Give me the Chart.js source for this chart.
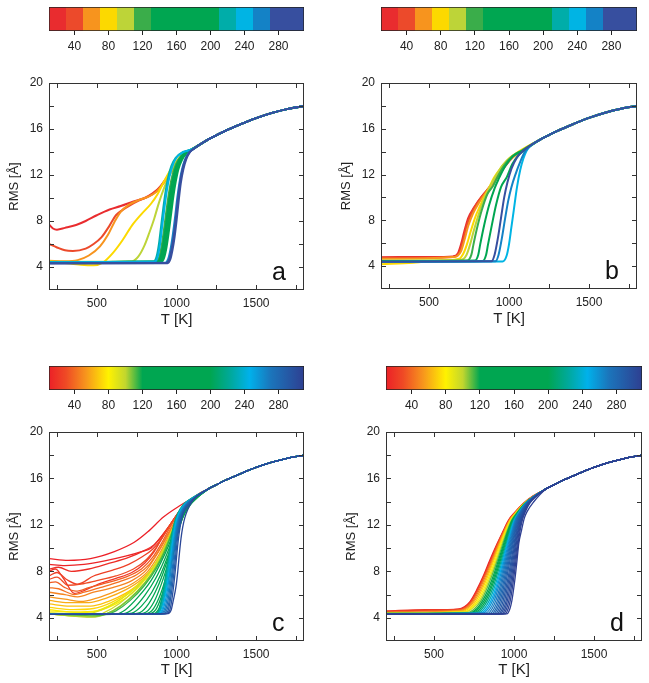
<!DOCTYPE html>
<html>

<head>
  <meta charset="utf-8">
  <title>RMS vs T</title>
  <style>
    body { margin: 0; background: #fff; overflow: hidden; }
    .box { position: absolute; }
  </style>
</head>

<body>
  <div class="box" style="left:0px;top:0px"><canvas id="barA" width="320" height="60"></canvas></div>
  <div class="box" style="left:325px;top:0px"><canvas id="barB" width="324" height="60"></canvas></div>
  <div class="box" style="left:0px;top:359px"><canvas id="barC" width="320" height="60"></canvas></div>
  <div class="box" style="left:325px;top:359px"><canvas id="barD" width="324" height="60"></canvas></div>
  <div class="box" style="left:0px;top:75px"><canvas id="plotA" width="320" height="254"></canvas></div>
  <div class="box" style="left:325px;top:75px"><canvas id="plotB" width="324" height="253"></canvas></div>
  <div class="box" style="left:0px;top:424px"><canvas id="plotC" width="320" height="255"></canvas></div>
  <div class="box" style="left:325px;top:424px"><canvas id="plotD" width="324" height="255"></canvas></div>

  <script src="https://cdn.jsdelivr.net/npm/chart.js"></script>
  <script>
    // axis ticks
    const xLabels = [500, 1000, 1500];
    const yLabels = [4, 8, 12, 16, 20];
    const xMarks = [250, 500, 750, 1000, 1250, 1500, 1750];
    const yMarks = [4, 6, 8, 10, 12, 14, 16, 18];
    const barLabels = [40, 80, 120, 160, 200, 240, 280];

    // colour scales (a, b use blocks; c, d are smooth)
    const segBounds = [10, 30, 50, 70, 90, 110, 130, 210, 230, 250, 270, 310];
    const segColors = ['#e92c2f', '#ec4a2b', '#f7941e', '#fcd900', '#bdd438', '#3aad4a', '#00a651', '#00ada9', '#00b4e4', '#1482c6', '#374f9f'];
    const cmapPos = [10, 30, 53, 80, 100, 120, 200, 224, 246, 271, 310];
    const cmapCol = ['#ec2027', '#ef4a25', '#f7941d', '#fff200', '#c2d62e', '#00a651', '#00a651', '#00a99d', '#00b1eb', '#1b75bb', '#2e3f91'];

    // common high temperature part, all curves join here
    const tail = [[1200, 15.1], [1250, 15.45], [1300, 15.8], [1400, 16.4], [1500, 16.95], [1600, 17.4], [1700, 17.75], [1800, 18.0]];

    // panel a
    const nA = [20, 40, 60, 80, 100, 120, 140, 160, 180, 200, 220, 240, 260, 280, 300];
    const linesA = [
      [[200, 7.7], [225, 7.35], [250, 7.25], [300, 7.4], [370, 7.65], [430, 8.0], [500, 8.5], [580, 9.0], [650, 9.3], [730, 9.7], [800, 10.0], [850, 10.4], [900, 11.0], [950, 12.0], [1000, 13.0], [1050, 13.8], [1095, 14.2]],
      [[200, 6.0], [250, 5.7], [300, 5.45], [350, 5.4], [430, 5.6], [480, 6.0], [530, 6.6], [580, 7.6], [620, 8.5], [660, 8.95], [700, 9.3], [760, 9.75], [820, 10.1], [870, 10.55], [920, 11.4], [970, 12.4], [1020, 13.3], [1060, 13.9], [1095, 14.2]],
      [[200, 4.55], [300, 4.5], [380, 4.6], [450, 5.0], [520, 5.8], [570, 6.8], [610, 7.9], [650, 8.8], [700, 9.4], [760, 9.8], [820, 10.1], [870, 10.5], [920, 11.3], [970, 12.3], [1020, 13.3], [1060, 13.9], [1095, 14.2]],
      [[200, 4.5], [300, 4.35], [400, 4.2], [480, 4.15], [540, 4.4], [600, 5.2], [660, 6.3], [720, 7.6], [780, 8.6], [840, 9.5], [880, 10.3], [920, 11.4], [960, 12.4], [1000, 13.2], [1050, 13.9], [1095, 14.2]],
      [[200, 4.45], [500, 4.45], [720, 4.5], [760, 4.9], [800, 5.9], [830, 7.0], [860, 8.2], [890, 9.6], [920, 10.8], [950, 11.8], [990, 12.9], [1040, 13.7], [1095, 14.2]],
      [[200, 4.42], [870, 4.45], [890, 4.8], [905, 5.7], [920, 7.1], [935, 8.7], [950, 10.2], [965, 11.4], [985, 12.5], [1010, 13.3], [1050, 13.95], [1090, 14.2]],
      [[200, 4.42], [880, 4.45], [898, 4.8], [913, 5.7], [928, 7.1], [943, 8.7], [958, 10.2], [973, 11.4], [992, 12.5], [1016, 13.3], [1055, 13.95], [1092, 14.2]],
      [[200, 4.42], [888, 4.45], [906, 4.8], [921, 5.7], [936, 7.1], [951, 8.7], [966, 10.2], [981, 11.4], [999, 12.5], [1022, 13.3], [1060, 13.95], [1094, 14.2]],
      [[200, 4.42], [896, 4.45], [914, 4.8], [929, 5.7], [944, 7.1], [959, 8.7], [974, 10.2], [988, 11.4], [1006, 12.5], [1028, 13.3], [1064, 13.95], [1096, 14.2]],
      [[200, 4.42], [904, 4.45], [922, 4.8], [937, 5.7], [952, 7.1], [967, 8.7], [981, 10.2], [995, 11.4], [1012, 12.5], [1034, 13.3], [1068, 13.95], [1098, 14.2]],
      [[200, 4.42], [855, 4.45], [875, 4.9], [890, 6.0], [903, 7.5], [917, 9.1], [932, 10.6], [948, 11.8], [968, 12.8], [995, 13.5], [1040, 14.0], [1090, 14.2]],
      [[200, 4.42], [862, 4.45], [882, 4.9], [897, 6.0], [910, 7.5], [924, 9.1], [939, 10.6], [955, 11.8], [975, 12.8], [1000, 13.5], [1045, 14.0], [1090, 14.2]],
      [[200, 4.35], [930, 4.38], [948, 4.7], [962, 5.5], [976, 6.7], [990, 8.2], [1004, 9.9], [1018, 11.3], [1033, 12.4], [1052, 13.3], [1075, 13.9], [1100, 14.2]],
      [[200, 4.32], [937, 4.35], [956, 4.7], [969, 5.5], [982, 6.6], [995, 8.1], [1008, 9.8], [1022, 11.3], [1038, 12.5], [1058, 13.4], [1080, 13.95], [1105, 14.25]],
      [[200, 4.3], [944, 4.33], [962, 4.7], [975, 5.5], [988, 6.6], [1001, 8.1], [1014, 9.8], [1027, 11.3], [1043, 12.5], [1062, 13.4], [1085, 14.0], [1110, 14.3]]
    ];

    // panel b
    const nB = [20, 40, 60, 80, 100, 120, 160, 200, 290, 260, 240];
    const linesB = [
      [[200, 4.78], [500, 4.8], [650, 4.85], [680, 5.1], [700, 5.9], [720, 7.0], [745, 8.2], [780, 9.1], [830, 10.1], [880, 10.9], [930, 11.8], [980, 12.8], [1030, 13.6], [1080, 14.1]],
      [[200, 4.72], [650, 4.8], [690, 5.2], [712, 6.2], [735, 7.5], [765, 8.6], [810, 9.7], [860, 10.6], [910, 11.5], [960, 12.5], [1010, 13.4], [1070, 14.0]],
      [[200, 4.65], [660, 4.8], [700, 5.3], [722, 6.3], [745, 7.5], [775, 8.6], [815, 9.6], [865, 10.6], [915, 11.6], [965, 12.6], [1015, 13.4], [1070, 14.0]],
      [[200, 4.17], [400, 4.3], [600, 4.5], [690, 4.65], [715, 5.1], [737, 5.9], [760, 7.0], [790, 8.3], [830, 9.6], [870, 10.7], [905, 11.7], [950, 12.6], [1000, 13.4], [1060, 14.0]],
      [[200, 4.5], [700, 4.55], [735, 5.0], [757, 5.9], [780, 7.1], [810, 8.5], [845, 9.9], [880, 10.9], [915, 11.8], [960, 12.8], [1010, 13.5], [1070, 14.0]],
      [[200, 4.45], [740, 4.5], [765, 5.0], [778, 5.9], [800, 7.3], [830, 8.9], [865, 10.3], [900, 11.0], [925, 11.7], [970, 12.8], [1020, 13.6], [1080, 14.1]],
      [[200, 4.42], [785, 4.48], [808, 5.0], [820, 5.9], [845, 7.6], [875, 9.3], [910, 10.8], [935, 11.6], [975, 12.7], [1025, 13.6], [1085, 14.1]],
      [[200, 4.4], [835, 4.45], [857, 5.0], [869, 5.9], [893, 7.6], [920, 9.4], [950, 10.9], [987, 11.8], [1020, 12.9], [1060, 13.7], [1095, 14.1]],
      [[200, 4.38], [890, 4.42], [910, 5.0], [930, 6.4], [950, 8.2], [970, 10.0], [990, 11.3], [1015, 12.5], [1050, 13.5], [1090, 14.1]],
      [[200, 4.38], [915, 4.42], [935, 5.0], [955, 6.4], [975, 8.1], [995, 9.7], [1015, 10.9], [1040, 12.0], [1070, 13.1], [1100, 14.0]],
      [[200, 4.35], [960, 4.4], [985, 4.9], [1000, 5.9], [1015, 7.4], [1030, 8.9], [1050, 10.9], [1070, 12.4], [1090, 13.4], [1115, 14.2]]
    ];

    // panel c
    const nC = [8, 12, 16, 20, 25, 30, 36, 42, 48, 54, 60, 66, 72, 78, 84, 90, 96, 102, 108, 114, 120, 130, 140, 150, 160, 170, 180, 190, 200, 210, 222, 234, 246, 256, 264, 272, 280, 288, 296, 304];
    const linesC = [
      [[200, 9.1], [320, 8.95], [460, 9.1], [610, 9.7], [735, 10.5], [820, 11.4], [920, 12.7], [1020, 13.65], [1110, 14.4], [1160, 14.85]],
      [[200, 8.6], [300, 8.5], [420, 8.6], [550, 8.9], [680, 9.3], [780, 9.7], [840, 10.0], [900, 10.9], [960, 12.0], [1020, 13.2], [1090, 14.15]],
      [[200, 8.2], [260, 8.35], [340, 8.0], [450, 8.2], [580, 8.7], [700, 9.2], [800, 9.8], [860, 10.3], [910, 11.1], [965, 12.1], [1025, 13.3], [1090, 14.15]],
      [[200, 8.0], [240, 8.2], [290, 7.4], [360, 6.1], [430, 6.4], [510, 6.9], [620, 7.4], [720, 7.9], [800, 8.7], [860, 9.7], [910, 10.9], [965, 12.1], [1025, 13.3], [1090, 14.15]],
      [[200, 7.6], [250, 7.9], [310, 7.3], [380, 6.9], [480, 7.6], [600, 8.1], [700, 8.6], [790, 9.3], [850, 9.9], [905, 10.8], [960, 12.0], [1025, 13.3], [1090, 14.15]],
      [[200, 7.3], [250, 7.5], [320, 6.8], [400, 6.9], [500, 7.2], [620, 7.6], [730, 8.2], [810, 9.0], [870, 10.0], [920, 11.1], [970, 12.2], [1030, 13.3], [1090, 14.15]],
      [[200, 7.0], [240, 7.1], [300, 6.6], [370, 6.3], [450, 6.6], [560, 7.0], [680, 7.5], [780, 8.2], [850, 9.2], [905, 10.4], [960, 11.8], [1025, 13.2], [1090, 14.15]],
      [[200, 6.6], [260, 6.5], [360, 6.0], [420, 6.2], [520, 6.6], [640, 7.1], [750, 7.7], [830, 8.6], [890, 9.8], [945, 11.2], [1000, 12.5], [1060, 13.7]],
      [[200, 6.2], [300, 6.0], [380, 5.8], [480, 6.2], [600, 6.6], [720, 7.2], [810, 8.1], [870, 9.3], [930, 10.7], [985, 12.1], [1050, 13.5]],
      [[200, 5.8], [300, 5.6], [400, 5.4], [500, 5.7], [620, 6.3], [730, 7.0], [820, 8.0], [880, 9.2], [935, 10.6], [990, 12.1], [1050, 13.5]],
      [[200, 5.5], [320, 5.3], [450, 5.3], [560, 5.7], [680, 6.4], [780, 7.3], [850, 8.3], [905, 9.6], [955, 11.0], [1000, 12.2], [1060, 13.6]],
      [[200, 5.2], [330, 5.0], [460, 5.0], [570, 5.4], [680, 6.1], [780, 7.1], [860, 8.4], [915, 9.8], [960, 11.1], [1005, 12.4], [1060, 13.6]],
      [[200, 4.9], [350, 4.7], [480, 4.8], [590, 5.3], [700, 6.2], [800, 7.4], [870, 8.6], [925, 10.0], [970, 11.4], [1010, 12.5], [1065, 13.7]],
      [[200, 4.7], [350, 4.5], [500, 4.6], [620, 5.2], [720, 6.1], [810, 7.4], [880, 8.8], [935, 10.3], [975, 11.5], [1015, 12.6], [1070, 13.8]],
      [[200, 4.6], [300, 4.5], [400, 4.45], [500, 4.6], [600, 5.2], [700, 6.1], [790, 7.2], [860, 8.4], [915, 9.7], [960, 11.0], [1000, 12.3], [1050, 13.4], [1095, 14.1]],
      [[200, 4.45], [300, 4.35], [400, 4.3], [480, 4.45], [580, 5.0], [680, 5.9], [780, 7.1], [860, 8.5], [920, 9.9], [965, 11.3], [1005, 12.5], [1055, 13.5], [1095, 14.1]],
      [[200, 4.35], [300, 4.2], [400, 4.1], [470, 4.1], [540, 4.4], [640, 5.2], [740, 6.4], [830, 7.9], [900, 9.4], [950, 10.8], [990, 12.1], [1040, 13.3], [1090, 14.05]],
      [[200, 4.33], [350, 4.15], [450, 4.05], [520, 4.15], [600, 4.6], [700, 5.6], [800, 7.0], [880, 8.6], [935, 10.1], [980, 11.6], [1020, 12.8], [1065, 13.7]],
      [[200, 4.32], [400, 4.2], [500, 4.15], [560, 4.35], [650, 5.0], [750, 6.2], [840, 7.7], [905, 9.2], [955, 10.8], [995, 12.2], [1035, 13.2], [1080, 13.9]],
      [[200, 4.32], [450, 4.25], [560, 4.3], [620, 4.6], [710, 5.5], [800, 6.8], [875, 8.3], [930, 9.8], [972, 11.3], [1010, 12.5], [1050, 13.4], [1090, 14.0]],
      [[200, 4.3], [500, 4.28], [620, 4.32], [680, 4.7], [760, 5.8], [840, 7.2], [900, 8.7], [950, 10.2], [988, 11.6], [1022, 12.7], [1060, 13.5], [1095, 14.05]],
      [[200, 4.3], [560, 4.3], [670, 4.35], [730, 4.8], [800, 5.9], [870, 7.4], [925, 9.0], [968, 10.5], [1000, 11.8], [1030, 12.8], [1065, 13.6]],
      [[200, 4.3], [620, 4.3], [720, 4.4], [780, 5.0], [845, 6.2], [900, 7.7], [945, 9.3], [980, 10.8], [1010, 12.0], [1038, 12.9], [1070, 13.6]],
      [[200, 4.3], [680, 4.3], [770, 4.45], [825, 5.2], [880, 6.6], [925, 8.2], [962, 9.8], [992, 11.2], [1018, 12.2], [1045, 13.0], [1075, 13.7]],
      [[200, 4.3], [730, 4.3], [810, 4.5], [860, 5.4], [905, 6.9], [945, 8.6], [977, 10.2], [1002, 11.5], [1026, 12.4], [1050, 13.1], [1080, 13.75]],
      [[200, 4.3], [780, 4.3], [845, 4.6], [890, 5.7], [930, 7.3], [962, 9.0], [988, 10.5], [1010, 11.7], [1032, 12.5], [1055, 13.2], [1085, 13.8]],
      [[200, 4.3], [820, 4.32], [870, 4.7], [910, 6.0], [945, 7.7], [973, 9.3], [996, 10.8], [1016, 11.8], [1037, 12.6], [1060, 13.3], [1090, 13.85]],
      [[200, 4.3], [850, 4.33], [890, 4.8], [925, 6.3], [955, 8.0], [980, 9.6], [1001, 11.0], [1020, 11.9], [1041, 12.7], [1065, 13.35], [1095, 13.9]],
      [[200, 4.3], [870, 4.35], [905, 4.9], [935, 6.5], [962, 8.3], [985, 9.9], [1005, 11.2], [1025, 12.1], [1045, 12.8], [1070, 13.4], [1100, 13.95]],
      [[200, 4.3], [860, 4.33], [885, 4.55], [900, 5.2], [915, 6.2], [930, 7.5], [945, 8.8], [958, 10.0], [970, 11.1], [985, 12.1], [1005, 12.9], [1040, 13.7], [1080, 14.15]],
      [[200, 4.3], [868, 4.33], [892, 4.6], [907, 5.3], [922, 6.4], [936, 7.7], [950, 9.0], [963, 10.2], [975, 11.3], [990, 12.2], [1010, 13.0], [1045, 13.75], [1085, 14.2]],
      [[200, 4.3], [876, 4.33], [899, 4.6], [914, 5.3], [929, 6.4], [943, 7.7], [956, 9.0], [969, 10.3], [981, 11.4], [996, 12.3], [1015, 13.0], [1050, 13.8], [1090, 14.2]],
      [[200, 4.3], [884, 4.33], [906, 4.6], [921, 5.3], [936, 6.4], [950, 7.7], [963, 9.1], [975, 10.4], [987, 11.5], [1001, 12.4], [1020, 13.1], [1055, 13.8], [1095, 14.2]],
      [[200, 4.3], [892, 4.33], [913, 4.6], [928, 5.3], [943, 6.4], [957, 7.8], [969, 9.2], [981, 10.5], [993, 11.6], [1006, 12.4], [1025, 13.1], [1060, 13.85], [1100, 14.25]],
      [[200, 4.3], [900, 4.33], [921, 4.6], [936, 5.3], [950, 6.4], [963, 7.8], [975, 9.2], [987, 10.6], [999, 11.7], [1012, 12.5], [1030, 13.2], [1065, 13.9], [1105, 14.3]],
      [[200, 4.3], [908, 4.33], [929, 4.6], [944, 5.3], [957, 6.4], [970, 7.8], [982, 9.3], [994, 10.7], [1005, 11.8], [1018, 12.6], [1036, 13.2], [1070, 13.9], [1110, 14.3]],
      [[200, 4.3], [916, 4.33], [938, 4.6], [952, 5.3], [965, 6.5], [977, 7.9], [989, 9.4], [1000, 10.8], [1011, 11.8], [1024, 12.6], [1042, 13.25], [1075, 13.9], [1115, 14.35]],
      [[200, 4.3], [924, 4.33], [947, 4.6], [960, 5.4], [972, 6.5], [984, 7.9], [996, 9.5], [1007, 10.9], [1018, 11.9], [1031, 12.7], [1048, 13.3], [1080, 13.9], [1118, 14.4]],
      [[200, 4.3], [932, 4.33], [956, 4.6], [969, 5.4], [980, 6.5], [992, 8.0], [1003, 9.6], [1014, 11.0], [1025, 12.0], [1038, 12.8], [1055, 13.3], [1090, 13.95], [1122, 14.4]],
      [[200, 4.3], [940, 4.35], [966, 4.65], [980, 5.5], [997, 6.7], [1008, 8.0], [1018, 9.5], [1028, 10.8], [1039, 11.8], [1052, 12.6], [1070, 13.3], [1095, 13.95], [1122, 14.4]]
    ];

    // panel d
    const nD = [10, 22, 34, 46, 58, 70, 82, 94, 110, 135, 160, 190, 215, 232, 248, 258, 264, 270, 275, 280, 284, 288, 292, 295, 298, 301, 304, 307, 310];
    const linesD = [
      [[200, 4.55], [450, 4.65], [650, 4.75], [690, 4.95], [725, 5.4], [767, 6.4], [808, 7.6], [850, 9.0], [892, 10.3], [933, 11.5], [965, 12.4], [1006, 13.1], [1058, 13.85], [1121, 14.5]],
      [[200, 4.6], [450, 4.7], [660, 4.75], [700, 5.0], [735, 5.5], [775, 6.5], [815, 7.7], [855, 9.0], [895, 10.3], [935, 11.5], [968, 12.4], [1008, 13.1], [1060, 13.85], [1121, 14.5]],
      [[200, 4.5], [450, 4.6], [665, 4.7], [705, 4.95], [740, 5.5], [780, 6.5], [820, 7.7], [860, 9.0], [898, 10.3], [938, 11.5], [970, 12.4], [1010, 13.1], [1060, 13.85]],
      [[200, 4.45], [670, 4.65], [712, 4.95], [748, 5.5], [787, 6.5], [826, 7.7], [865, 9.0], [902, 10.3], [940, 11.5], [972, 12.4], [1012, 13.1], [1062, 13.85]],
      [[200, 4.45], [675, 4.6], [720, 4.95], [755, 5.5], [795, 6.5], [833, 7.7], [870, 9.0], [906, 10.3], [943, 11.5], [974, 12.4], [1013, 13.1], [1063, 13.85]],
      [[200, 4.4], [680, 4.55], [728, 4.9], [765, 5.5], [803, 6.5], [840, 7.7], [876, 9.0], [911, 10.3], [946, 11.5], [976, 12.4], [1015, 13.1], [1064, 13.85]],
      [[200, 4.4], [690, 4.5], [738, 4.9], [775, 5.5], [812, 6.5], [848, 7.7], [883, 9.0], [916, 10.3], [950, 11.5], [979, 12.4], [1017, 13.1], [1065, 13.85]],
      [[200, 4.4], [700, 4.5], [748, 4.9], [785, 5.5], [821, 6.5], [856, 7.7], [890, 9.0], [922, 10.3], [954, 11.5], [982, 12.4], [1019, 13.1], [1066, 13.85]],
      [[200, 4.38], [710, 4.45], [758, 4.85], [795, 5.5], [830, 6.5], [864, 7.7], [897, 9.0], [928, 10.3], [958, 11.5], [985, 12.4], [1021, 13.1], [1067, 13.85]],
      [[200, 4.38], [720, 4.42], [768, 4.8], [805, 5.5], [840, 6.5], [873, 7.7], [904, 9.0], [934, 10.3], [962, 11.5], [988, 12.4], [1023, 13.1], [1068, 13.85]],
      [[200, 4.36], [730, 4.4], [778, 4.8], [815, 5.5], [849, 6.5], [880, 7.7], [910, 9.0], [939, 10.3], [966, 11.5], [991, 12.4], [1025, 13.1], [1069, 13.85]],
      [[200, 4.36], [745, 4.4], [790, 4.8], [825, 5.5], [857, 6.5], [887, 7.7], [916, 9.0], [944, 10.3], [970, 11.5], [994, 12.4], [1027, 13.1], [1070, 13.85]],
      [[200, 4.35], [760, 4.4], [802, 4.8], [835, 5.5], [866, 6.5], [894, 7.7], [922, 9.0], [949, 10.3], [974, 11.5], [997, 12.4], [1029, 13.1], [1071, 13.85]],
      [[200, 4.35], [775, 4.4], [815, 4.8], [846, 5.5], [875, 6.5], [902, 7.7], [928, 9.0], [954, 10.3], [978, 11.5], [1000, 12.4], [1031, 13.1], [1072, 13.85]],
      [[200, 4.35], [790, 4.38], [828, 4.8], [857, 5.5], [884, 6.5], [909, 7.7], [934, 9.0], [958, 10.3], [982, 11.5], [1003, 12.4], [1033, 13.1], [1073, 13.85]],
      [[200, 4.34], [805, 4.38], [840, 4.8], [867, 5.5], [892, 6.5], [916, 7.7], [940, 9.0], [963, 10.3], [986, 11.5], [1006, 12.4], [1035, 13.1], [1074, 13.85]],
      [[200, 4.34], [820, 4.38], [852, 4.8], [877, 5.5], [900, 6.5], [923, 7.7], [946, 9.0], [968, 10.3], [990, 11.5], [1009, 12.4], [1037, 13.1], [1075, 13.85]],
      [[200, 4.34], [835, 4.37], [864, 4.8], [887, 5.5], [909, 6.5], [930, 7.7], [952, 9.0], [973, 10.3], [994, 11.5], [1012, 12.4], [1039, 13.1], [1076, 13.85]],
      [[200, 4.33], [850, 4.37], [876, 4.8], [897, 5.5], [917, 6.5], [937, 7.7], [958, 9.0], [978, 10.3], [998, 11.5], [1016, 12.4], [1041, 13.1], [1078, 13.85]],
      [[200, 4.33], [862, 4.36], [887, 4.8], [906, 5.5], [925, 6.5], [944, 7.7], [964, 9.0], [983, 10.3], [1002, 11.5], [1019, 12.4], [1044, 13.1], [1080, 13.85]],
      [[200, 4.33], [873, 4.36], [897, 4.8], [915, 5.5], [933, 6.5], [951, 7.7], [970, 9.0], [988, 10.3], [1006, 11.5], [1023, 12.4], [1047, 13.1], [1082, 13.85]],
      [[200, 4.32], [884, 4.35], [907, 4.8], [924, 5.5], [941, 6.5], [958, 7.7], [976, 9.0], [993, 10.3], [1010, 11.5], [1027, 12.4], [1050, 13.1], [1084, 13.85]],
      [[200, 4.32], [895, 4.35], [917, 4.8], [933, 5.5], [949, 6.5], [966, 7.7], [983, 9.0], [999, 10.3], [1015, 11.5], [1031, 12.4], [1053, 13.1], [1086, 13.85]],
      [[200, 4.32], [905, 4.35], [927, 4.8], [942, 5.5], [957, 6.5], [973, 7.7], [989, 9.0], [1004, 10.3], [1019, 11.5], [1035, 12.4], [1056, 13.1], [1088, 13.85]],
      [[200, 4.31], [915, 4.35], [936, 4.8], [951, 5.5], [965, 6.5], [980, 7.7], [995, 9.0], [1009, 10.3], [1024, 11.5], [1039, 12.4], [1059, 13.1], [1090, 13.85]],
      [[200, 4.31], [925, 4.34], [945, 4.8], [959, 5.5], [973, 6.5], [987, 7.7], [1001, 9.0], [1014, 10.3], [1028, 11.5], [1043, 12.4], [1062, 13.1], [1092, 13.85]],
      [[200, 4.31], [935, 4.34], [954, 4.8], [968, 5.5], [981, 6.5], [994, 7.7], [1007, 9.0], [1020, 10.3], [1033, 11.5], [1047, 12.4], [1066, 13.1], [1095, 13.85]],
      [[200, 4.3], [945, 4.34], [964, 4.8], [977, 5.5], [989, 6.5], [1001, 7.7], [1013, 9.0], [1025, 10.3], [1038, 11.5], [1052, 12.4], [1070, 13.1], [1098, 13.85]],
      [[200, 4.3], [955, 4.33], [975, 4.8], [987, 5.5], [998, 6.5], [1009, 7.7], [1020, 9.1], [1030, 10.4], [1048, 11.6], [1065, 12.6], [1080, 13.1], [1121, 13.95]]
    ];

    const FONT = "'Liberation Sans', Arial, Helvetica, sans-serif";
    Chart.defaults.font.family = FONT;
    Chart.defaults.color = '#222';

    function blockColor(n) {
      for (let i = 0; i < segColors.length; i++) {
        if (n < segBounds[i + 1]) return segColors[i];
      }
      return segColors[segColors.length - 1];
    }

    function hexRgb(h) {
      return [1, 3, 5].map(k => parseInt(h.slice(k, k + 2), 16));
    }

    function smoothColor(n) {
      for (let i = 0; i < cmapPos.length - 1; i++) {
        if (n <= cmapPos[i + 1]) {
          const t = Math.max(0, (n - cmapPos[i]) / (cmapPos[i + 1] - cmapPos[i]));
          const a = hexRgb(cmapCol[i]), b = hexRgb(cmapCol[i + 1]);
          const c = a.map((v, k) => Math.round(v + (b[k] - v) * t));
          return 'rgb(' + c.join(',') + ')';
        }
      }
      return cmapCol[cmapCol.length - 1];
    }

    // gradient stops for the colour bars
    function blockStops() {
      const stops = [];
      segColors.forEach((c, i) => {
        stops.push([(segBounds[i] - 10) / 300, c]);
        stops.push([(segBounds[i + 1] - 10) / 300, c]);
      });
      return stops;
    }

    function smoothStops() {
      return cmapPos.map((p, i) => [(p - 10) / 300, cmapCol[i]]);
    }

    // frame, inward ticks on all four sides and the panel letter
    const frameTicks = {
      id: 'frameTicks',
      afterDatasetsDraw(chart, args, opts) {
        const { ctx, chartArea: a } = chart;
        const x = chart.scales.x, y = chart.scales.y;
        ctx.save();
        ctx.strokeStyle = '#333';
        ctx.lineWidth = 1;
        ctx.strokeRect(a.left + 0.5, a.top + 0.5, a.width - 1, a.height - 1);
        ctx.beginPath();
        xMarks.forEach(v => {
          const p = Math.round(x.getPixelForValue(v)) + 0.5;
          ctx.moveTo(p, a.bottom); ctx.lineTo(p, a.bottom - 5);
          ctx.moveTo(p, a.top); ctx.lineTo(p, a.top + 5);
        });
        yMarks.forEach(v => {
          const p = Math.round(y.getPixelForValue(v)) + 0.5;
          ctx.moveTo(a.left, p); ctx.lineTo(a.left + 5, p);
          ctx.moveTo(a.right, p); ctx.lineTo(a.right - 5, p);
        });
        ctx.stroke();
        ctx.fillStyle = '#111';
        ctx.font = '25px ' + FONT;
        ctx.textBaseline = 'alphabetic';
        ctx.fillText(opts.letter, a.right - 32, a.bottom - 10);
        ctx.restore();
      }
    };

    function makePlot(id, lines, ns, colorOf, width, letter, pad, xAxisH) {
      const datasets = lines.map((pts, i) => ({
        data: pts.concat(tail).map(p => ({ x: p[0], y: p[1] })),
        borderColor: colorOf(ns[i]),
        borderWidth: width,
        order: -ns[i]
      }));
      new Chart(document.getElementById(id), {
        type: 'line',
        data: { datasets: datasets },
        options: {
          responsive: false,
          animation: false,
          events: [],
          layout: { padding: pad },
          elements: { point: { radius: 0 }, line: { cubicInterpolationMode: 'monotone' } },
          plugins: { legend: { display: false }, tooltip: { enabled: false }, frameTicks: { letter: letter } },
          scales: {
            x: {
              type: 'linear', min: 200, max: 1800,
              afterBuildTicks: s => { s.ticks = xLabels.map(v => ({ value: v })); },
              afterFit: s => { s.height = xAxisH; s.paddingLeft = 0; s.paddingRight = 0; },
              grid: { display: false, drawTicks: false },
              border: { display: false },
              ticks: { padding: 6, font: { size: 12 }, callback: v => String(v) },
              title: { display: true, text: 'T [K]', font: { size: 15 }, padding: { top: 0, bottom: 0 } }
            },
            y: {
              type: 'linear', min: 2, max: 20,
              afterBuildTicks: s => { s.ticks = yLabels.map(v => ({ value: v })); },
              afterFit: s => { s.width = 49; s.paddingTop = 0; s.paddingBottom = 0; },
              grid: { display: false, drawTicks: false },
              border: { display: false },
              ticks: { padding: 6, font: { size: 12 }, callback: v => String(v) },
              title: { display: true, text: 'RMS [Å]', font: { size: 13 }, padding: { top: 7, bottom: 0 } }
            }
          }
        },
        plugins: [frameTicks]
      });
    }

    function makeBar(id, stops, pad, axisH) {
      new Chart(document.getElementById(id), {
        type: 'bar',
        data: {
          labels: [''],
          datasets: [{
            data: [[10, 310]],
            backgroundColor: c => {
              const ch = c.chart;
              if (!ch.chartArea) return 'transparent';
              const g = ch.ctx.createLinearGradient(ch.chartArea.left, 0, ch.chartArea.right, 0);
              stops.forEach(s => g.addColorStop(s[0], s[1]));
              return g;
            },
            borderColor: '#222',
            borderWidth: 1,
            borderSkipped: false,
            barPercentage: 1,
            categoryPercentage: 1
          }]
        },
        options: {
          indexAxis: 'y',
          responsive: false,
          animation: false,
          events: [],
          layout: { padding: pad },
          plugins: { legend: { display: false }, tooltip: { enabled: false } },
          scales: {
            x: {
              type: 'linear', min: 10, max: 310,
              afterBuildTicks: s => { s.ticks = barLabels.map(v => ({ value: v })); },
              afterFit: s => { s.height = axisH; s.paddingLeft = 0; s.paddingRight = 0; },
              grid: { drawOnChartArea: false, tickLength: 4, color: '#222' },
              border: { display: false },
              ticks: { padding: 4, font: { size: 12 }, callback: v => String(v) }
            },
            y: { display: false }
          }
        }
      });
    }

    makeBar('barA', blockStops(), { left: 49, right: 16, top: 7, bottom: 0 }, 29);
    makeBar('barB', blockStops(), { left: 56, right: 12, top: 7, bottom: 0 }, 29);
    makeBar('barC', smoothStops(), { left: 49, right: 16, top: 7, bottom: 0 }, 29);
    makeBar('barD', smoothStops(), { left: 12 + 49, right: 7, top: 7, bottom: 0 }, 29);

    makePlot('plotA', linesA, nA, blockColor, 2, 'a', { left: 0, right: 16, top: 8, bottom: 0 }, 39);
    makePlot('plotB', linesB, nB, blockColor, 2, 'b', { left: 7, right: 12, top: 8, bottom: 0 }, 39);
    makePlot('plotC', linesC, nC, smoothColor, 1.3, 'c', { left: 0, right: 16, top: 8, bottom: 0 }, 38);
    makePlot('plotD', linesD, nD, smoothColor, 1.3, 'd', { left: 12, right: 7, top: 8, bottom: 0 }, 38);
  </script>
</body>
</html>
